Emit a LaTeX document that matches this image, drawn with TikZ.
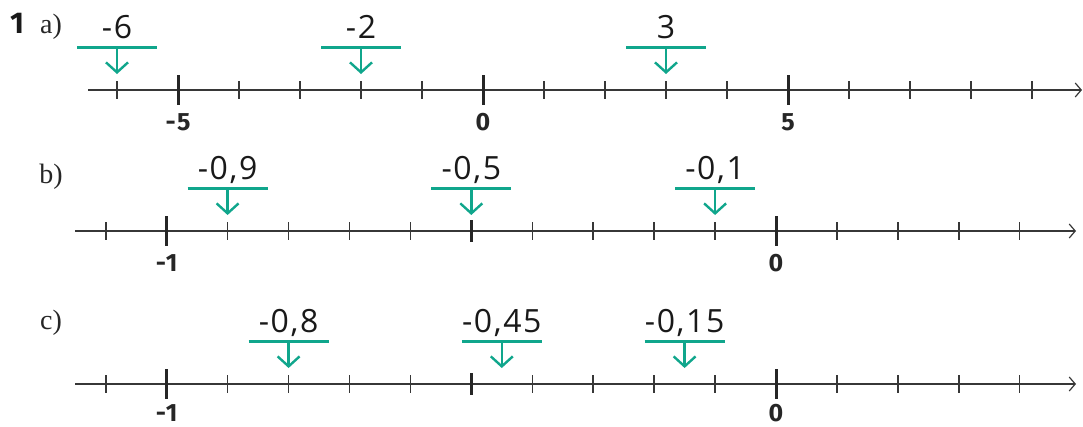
\documentclass[tikz,border=0pt]{standalone}
\usepackage{fontspec}
\newfontfamily\handfont[LetterSpace=5]{Open Sans}
\newfontfamily\tickfont[LetterSpace=6]{Fira Sans}
\newfontfamily\partfont{Liberation Serif}
\usetikzlibrary{arrows.meta}
\definecolor{tealmark}{RGB}{16,166,140}
\definecolor{axisgray}{RGB}{55,55,55}
\newcommand\numpointer[4]{% name, x, axis y, text
  \coordinate (#1-l) at ({#2-40},{#3-43});
  \coordinate (#1-r) at ({#2+40},{#3-43});
  \coordinate (#1-top) at ({#2},{#3-43});
  \coordinate (#1-tip) at ({#2},{#3-16});
  \draw[bar] (#1-l) -- (#1-r);
  \draw[pointer] (#1-top) -- (#1-tip);
  \node[value] (#1-text) at ({#2},{#3-52}) {#4};
}
\newcommand\numaxis[4]{% name, y, x start, x end
  \coordinate (#1-start) at (#3,#2);
  \coordinate (#1-end) at (#4,#2);
  \draw[axisline] (#1-start) -- (#1-end);
}
\begin{document}
\begin{tikzpicture}[x={(1pt,0)},y={(0,-1pt)},
  axisline/.style={line width=1.5pt, draw=axisgray, -{Straight Barb[length=6pt,width=14pt,line width=1.2pt]}},
  minortick/.style={line width=1.5pt, draw=axisgray},
  midtick/.style={line width=2.3pt, draw=black!85},
  majortick/.style={line width=3pt, draw=black!85},
  ticklabel/.style={font=\tickfont\bfseries\fontsize{25}{27}\selectfont, inner sep=0pt, anchor=base, text depth=0pt, text=black!85},
  bar/.style={line width=3pt, draw=tealmark},
  pointer/.style={line width=2.4pt, draw=tealmark, -{Straight Barb[length=10pt,width=22pt,line width=2.4pt]}},
  value/.style={font=\handfont\fontsize{32}{34}\selectfont, inner sep=0pt, anchor=base, text=black!90},
  partlabel/.style={font=\partfont\fontsize{28}{30}\selectfont, inner sep=0pt, anchor=base, text=black!85},
  numlabel/.style={font=\tickfont\bfseries\fontsize{30}{32}\selectfont, inner sep=0pt, anchor=base, text=black!90}]
\useasboundingbox (0,0) rectangle (1083,426);

% ---------- a) ----------
\node[numlabel] (num) at (17,33) {1};
\node[partlabel] (pa) at (51,33) {a)};
\numaxis{ax-a}{90}{88}{1082}
\foreach \k in {-6,...,9} {
  \draw[minortick] ({483+61*\k},81) -- ({483+61*\k},99);
}
\foreach \k/\t in {-5/-5,0/0,5/5} {
  \draw[majortick] ({483+61*\k},75) -- ({483+61*\k},105);
  \node[ticklabel] (ta\k) at ({483+61*\k},130) {\t};
}
\numpointer{pa1}{117}{90}{-6}
\numpointer{pa2}{361}{90}{-2}
\numpointer{pa3}{666}{90}{3}

% ---------- b) ----------
\node[partlabel] (pb) at (51,183) {b)};
\numaxis{ax-b}{231}{75}{1076}
\foreach \k in {-11,...,4} {
  \draw[minortick] ({776+60.93*\k},222) -- ({776+60.93*\k},240);
}
\draw[midtick] ({776-60.93*5},220) -- ({776-60.93*5},242);
\foreach \k/\t in {-10/-1,0/0} {
  \draw[majortick] ({776+60.93*\k},216) -- ({776+60.93*\k},246);
  \node[ticklabel] (tb\k) at ({776+60.93*\k},271) {\t};
}
\numpointer{pb1}{227.6}{231}{-0,9}
\numpointer{pb2}{471.3}{231}{-0,5}
\numpointer{pb3}{715.1}{231}{-0,1}

% ---------- c) ----------
\node[partlabel] (pc) at (51,329) {c)};
\numaxis{ax-c}{384}{75}{1076}
\foreach \k in {-11,...,4} {
  \draw[minortick] ({776+60.93*\k},375) -- ({776+60.93*\k},393);
}
\draw[midtick] ({776-60.93*5},373) -- ({776-60.93*5},395);
\foreach \k/\t in {-10/-1,0/0} {
  \draw[majortick] ({776+60.93*\k},369) -- ({776+60.93*\k},399);
  \node[ticklabel] (tc\k) at ({776+60.93*\k},421) {\t};
}
\numpointer{pc1}{288.6}{384}{-0,8}
\numpointer{pc2}{501.8}{384}{-0,45}
\numpointer{pc3}{684.6}{384}{-0,15}
\end{tikzpicture}
\end{document}
